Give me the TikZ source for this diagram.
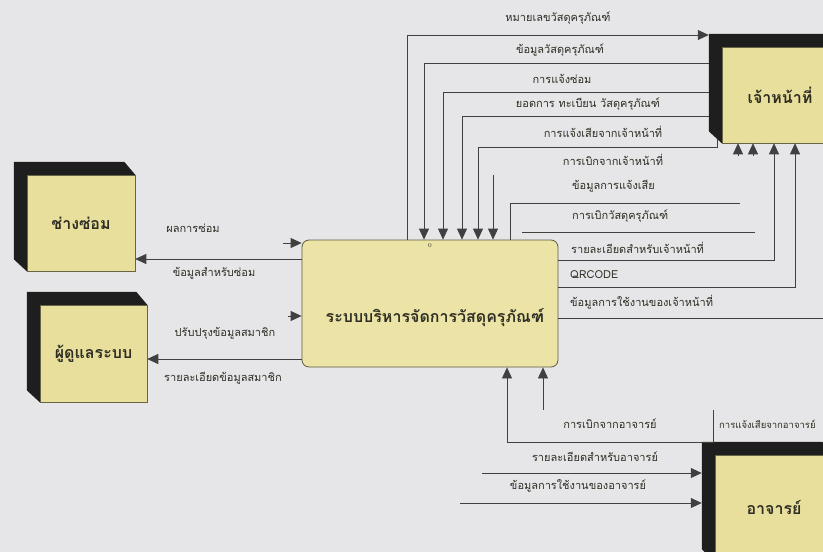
\documentclass[tikz,border=0pt]{standalone}
\usepackage{fontspec}
\newfontfamily\thaifont[Script=Thai]{Loma}
\usetikzlibrary{arrows.meta}
\definecolor{bg}{HTML}{E6E6E9}
\definecolor{ent}{HTML}{E8DF9C}
\definecolor{proc}{HTML}{ECE4A6}
\definecolor{ln}{HTML}{404040}
\definecolor{shd}{HTML}{1E1E1E}
\definecolor{txt}{HTML}{2E2E24}
\begin{document}
\begin{tikzpicture}[x=1pt,y=-1pt,
  flow/.style={draw=ln, line width=0.8pt},
  arr/.style={flow, -{Triangle[length=11pt,width=10pt]}},
  flab/.style={font=\thaifont\fontsize{11}{13}\selectfont, text=txt, inner sep=0pt},
  entbox/.style={draw=ent!45!black, line width=0.5pt, fill=ent, inner sep=0pt,
    font=\thaifont\bfseries\fontsize{16}{19}\selectfont, text=txt},
  procbox/.style={draw=proc!40!black, line width=0.8pt, fill=proc, rounded corners=7pt, inner sep=0pt}]
\useasboundingbox (0,0) rectangle (823,552);
\clip (0,0) rectangle (823,552);
\fill[bg] (0,0) rectangle (823,552);

% ---------- entities ----------
\node[entbox, minimum width=108pt, minimum height=96pt] (chang) at (81,223) {ช่างซ่อม};
\node[entbox, minimum width=107pt, minimum height=97pt] (admin) at (93.5,353.5) {ผู้ดูแลระบบ};
\node[entbox, minimum width=116pt, minimum height=96pt] (staff) at (780,95) {เจ้าหน้าที่};
\node[entbox, minimum width=118pt, minimum height=106pt] (teacher) at (774,508) {อาจารย์};
\foreach \e in {chang,admin,staff,teacher}{
  \fill[shd] ([shift={(-13,-13)}]\e.north west) -- ([shift={(-11,-13)}]\e.north east)
     -- (\e.north east) -- (\e.south west) -- ([shift={(-13,-12)}]\e.south west) -- cycle;
}
% fronts drawn again over the shadows
\node[entbox, minimum width=108pt, minimum height=96pt] at (chang) {ช่างซ่อม};
\node[entbox, minimum width=107pt, minimum height=97pt] at (admin) {ผู้ดูแลระบบ};
\node[entbox, minimum width=116pt, minimum height=96pt] at (staff) {เจ้าหน้าที่};
\node[entbox, minimum width=118pt, minimum height=106pt] at (teacher) {อาจารย์};

\coordinate (staffL) at ([xshift=-13pt]staff.west);
\coordinate (teachL) at ([xshift=-13pt]teacher.west);

% ---------- process ----------
\node[procbox, minimum width=256pt, minimum height=127pt] (proc) at (430,303.5) {};
\node[font=\thaifont\bfseries\fontsize{16}{19}\selectfont, text=txt, inner sep=0pt] (ptitle) at (435,318) {ระบบบริหารจัดการวัสดุครุภัณฑ์};
\node[font=\fontsize{6}{7}\selectfont, text=txt, inner sep=0pt] (pnum) at (430,246) {0};

% ---------- flows to / from staff (top) ----------
\coordinate (t1) at (407,35);
\draw[arr] (t1 |- proc.north) -- (t1) -- (t1 -| staffL);
\coordinate (t2) at (424,63);
\draw[arr] (t2 -| staffL) -- (t2) -- (t2 |- proc.north);
\coordinate (t3) at (443,92);
\draw[arr] (t3 -| staffL) -- (t3) -- (t3 |- proc.north);
\coordinate (t4) at (462,116);
\draw[arr] (t4 -| staffL) -- (t4) -- (t4 |- proc.north);
\coordinate (t5) at (478,147);
\coordinate (t5e) at (717,139);
\draw[arr] (t5e) -- (t5e |- t5) -- (t5) -- (t5 |- proc.north);
\coordinate (t6) at (493,175);
\draw[arr] (t6) -- (t6 |- proc.north);

\node[flab] (lt1) at (558,18) {หมายเลขวัสดุครุภัณฑ์};
\node[flab] (lt2) at (560,50) {ข้อมูลวัสดุครุภัณฑ์};
\node[flab] (lt3) at (562,79) {การแจ้งซ่อม};
\node[flab] (lt4) at (588,104) {ยอดการ ทะเบียน วัสดุครุภัณฑ์};
\node[flab] (lt5) at (603,132) {การแจ้งเสียจากเจ้าหน้าที่};
\node[flab] (lt6) at (613,160) {การเบิกจากเจ้าหน้าที่};

% ---------- flows on the right ----------
\coordinate (r1) at (510,203);
\coordinate (r1e) at (740,203);
\draw[flow] (r1 |- proc.north) -- (r1) -- (r1e);
\coordinate (r2s) at (522,232);
\coordinate (r2e) at (755,232);
\draw[flow] (r2s) -- (r2e);
\coordinate (u1) at (738,156);
\draw[arr] (u1) -- (u1 |- staff.south);
\coordinate (u2) at (753,156);
\draw[arr] (u2) -- (u2 |- staff.south);
\coordinate (r3) at (774,260);
\draw[arr] (proc.east |- r3) -- (r3) -- (r3 |- staff.south);
\coordinate (r4) at (795,287);
\draw[arr] (proc.east |- r4) -- (r4) -- (r4 |- staff.south);
\coordinate (r5) at (828,318);
\draw[arr] (proc.east |- r5) -- (r5) -- (r5 |- staff.south);

\node[flab, anchor=west] (lr1) at (572,186) {ข้อมูลการแจ้งเสีย};
\node[flab, anchor=west] (lr2) at (572,216) {การเบิกวัสดุครุภัณฑ์};
\node[flab, anchor=west] (lr3) at (571,248) {รายละเอียดสำหรับเจ้าหน้าที่};
\node[flab, anchor=west] (lr4) at (570,275) {QRCODE};
\node[flab, anchor=west] (lr5) at (570,302) {ข้อมูลการใช้งานของเจ้าหน้าที่};

% ---------- flows on the left ----------
\coordinate (l1) at (283,243);
\draw[arr] (l1) -- (l1 -| proc.west);
\coordinate (l2) at (200,259);
\draw[arr] (l2 -| proc.west) -- (l2 -| chang.east);
\coordinate (l3) at (288,316);
\draw[arr] (l3) -- (l3 -| proc.west);
\coordinate (l4) at (200,359);
\draw[arr] (l4 -| proc.west) -- (l4 -| admin.east);

\node[flab] (ll1) at (193,228) {ผลการซ่อม};
\node[flab] (ll2) at (214,273) {ข้อมูลสำหรับซ่อม};
\node[flab] (ll3) at (225,333) {ปรับปรุงข้อมูลสมาชิก};
\node[flab] (ll4) at (223,378) {รายละเอียดข้อมูลสมาชิก};

% ---------- flows at the bottom ----------
\coordinate (b1) at (507,442);
\coordinate (b1c) at (713,442);
\coordinate (b1t) at (713,410);
\draw[arr] (b1t) -- (b1c) -- (b1) -- (b1 |- proc.south);
\coordinate (b2) at (543,410);
\draw[arr] (b2) -- (b2 |- proc.south);
\coordinate (b3) at (482,473);
\draw[arr] (b3) -- (b3 -| teachL);
\coordinate (b4) at (460,503);
\draw[arr] (b4) -- (b4 -| teachL);

\node[flab] (lb1) at (610,424) {การเบิกจากอาจารย์};
\node[flab, anchor=west, font=\thaifont\fontsize{9.5}{11}\selectfont] (lb2) at (719,424) {การแจ้งเสียจากอาจารย์};
\node[flab] (lb3) at (595,457) {รายละเอียดสำหรับอาจารย์};
\node[flab] (lb4) at (578,486) {ข้อมูลการใช้งานของอาจารย์};
\end{tikzpicture}
\end{document}
